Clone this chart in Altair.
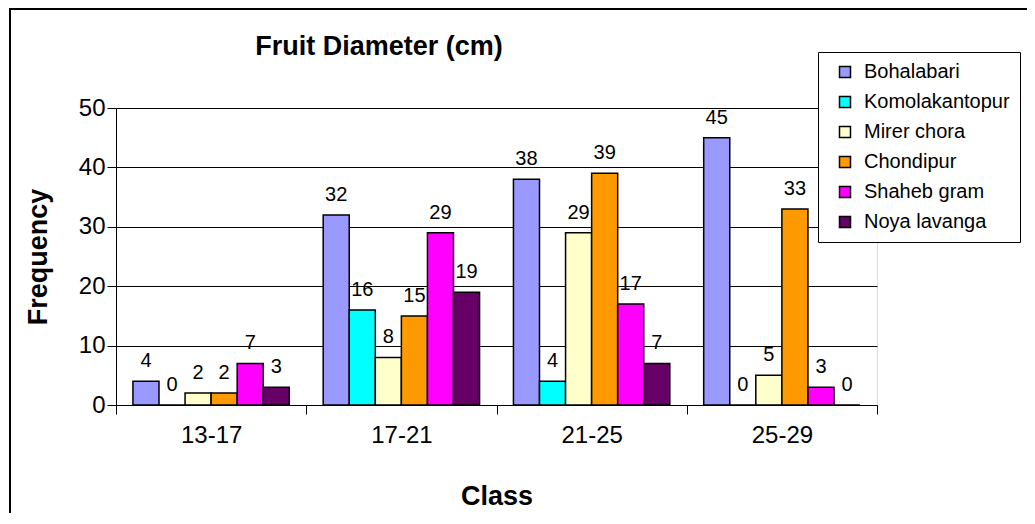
import altair as alt
import pandas as pd

classes = ["13-17", "17-21", "21-25", "25-29"]
series = ["Bohalabari", "Komolakantopur", "Mirer chora", "Chondipur", "Shaheb gram", "Noya lavanga"]
bohalabari = [4, 32, 38, 45]
komolakantopur = [0, 16, 4, 0]
mirer_chora = [2, 8, 29, 5]
chondipur = [2, 15, 39, 33]
shaheb_gram = [7, 29, 17, 3]
noya_lavanga = [3, 19, 7, 0]
colors = ["#9999FF", "#00FFFF", "#FFFFCC", "#FF9900", "#FF00FF", "#660066"]
title_text = "Fruit Diameter (cm)"

values = [bohalabari, komolakantopur, mirer_chora, chondipur, shaheb_gram, noya_lavanga]
rows = []
for s, vals in zip(series, values):
    for c, v in zip(classes, vals):
        rows.append({"Class": c, "Series": s, "Frequency": v})
df = pd.DataFrame(rows)

FONT = "Liberation Sans"

x_enc = alt.X("Class:N", sort=classes, title="Class",
              scale=alt.Scale(paddingInner=0, paddingOuter=0),
              axis=alt.Axis(labelAngle=0, tickBand="extent", grid=False,
                            labelFontSize=24, labelFont=FONT, labelColor="black",
                            titleFontSize=27, titleFont=FONT, titleFontWeight="bold",
                            titleColor="black", labelPadding=9, titlePadding=36,
                            tickSize=9, tickColor="black", domainColor="black"))
xoff = alt.XOffset("Series:N", sort=series,
                   scale=alt.Scale(paddingOuter=0.65, paddingInner=0))
y_enc = alt.Y("Frequency:Q", title="Frequency",
              scale=alt.Scale(domain=[0, 50]),
              axis=alt.Axis(values=[0, 10, 20, 30, 40, 50], grid=True, gridColor="black",
                            gridWidth=1, labelFontSize=24, labelFont=FONT, labelColor="black",
                            titleFontSize=27, titleFont=FONT, titleFontWeight="bold",
                            titleColor="black", titlePadding=26, tickSize=9,
                            tickColor="black", domainColor="black", labelPadding=2))

bars = alt.Chart(df).mark_bar(stroke="black", strokeWidth=1.5).encode(
    x=x_enc, xOffset=xoff, y=y_enc,
    color=alt.Color("Series:N", sort=series,
                    scale=alt.Scale(domain=series, range=colors),
                    legend=alt.Legend(title=None, orient="none", legendX=702, legendY=-56,
                                      fillColor="white", strokeColor="black",
                                      padding=10, symbolType="square", symbolSize=121,
                                      symbolStrokeColor="black", symbolStrokeWidth=1.5,
                                      labelFontSize=20, labelFont=FONT, labelColor="black",
                                      labelOffset=9, rowPadding=10, symbolOffset=7)),
)

labels = alt.Chart(df).mark_text(baseline="bottom", dy=-10, fontSize=20, font=FONT,
                                 color="black").encode(
    x=alt.X("Class:N", sort=classes), xOffset=xoff, y="Frequency:Q",
    text="Frequency:Q",
)

frame = alt.Chart(pd.DataFrame({"a": [0]})).mark_rect(
    fill=None, stroke="black", strokeWidth=2, clip=False).encode(
    x=alt.value(-106), x2=alt.value(1000), y=alt.value(-99), y2=alt.value(800))

title = alt.Chart(pd.DataFrame({"t": [title_text]})).mark_text(
    fontSize=27, font=FONT, fontWeight="bold", color="black",
    align="center", baseline="middle").encode(
    text="t:N", x=alt.value(263), y=alt.value(-61))

chart = alt.layer(frame, bars, labels, title).properties(
    width=761, height=297,
    padding={"left": 108, "top": 100, "right": 150, "bottom": 108},
    autosize=alt.AutoSizeParams(type="none"),
).configure_view(fill="#C0C0C0", stroke="#808080", strokeWidth=1.5).configure(
    background="white")

chart.save("out.html", embed_options={"renderer": "svg", "actions": False})
